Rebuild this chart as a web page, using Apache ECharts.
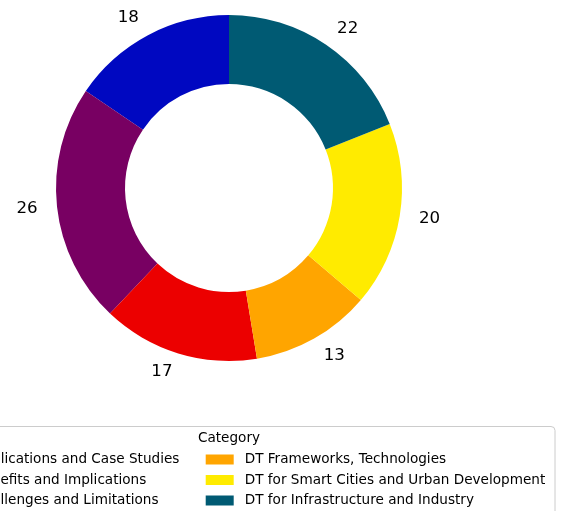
<!DOCTYPE html>
<html>
<head>
<meta charset="utf-8">
<script src="https://cdn.jsdelivr.net/npm/echarts@6/dist/echarts.min.js"></script>
<style>
html,body{margin:0;padding:0;background:#fff;}
#c{width:565px;height:511px;}
</style>
</head>
<body>
<div id="c"></div>
<script>
const categories = [
  "DT Applications and Case Studies",
  "DT Benefits and Implications",
  "DT Challenges and Limitations",
  "DT Frameworks, Technologies",
  "DT for Smart Cities and Urban Development",
  "DT for Infrastructure and Industry"
];
const values = [18, 26, 17, 13, 20, 22];
const colors = ["#0008C1", "#780062", "#EC0000", "#FFA500", "#FFEB00", "#005A73"];
const legendTitle = "Category";

const FONT = "DejaVu Sans";
const chart = echarts.init(document.getElementById('c'), null, {renderer: 'canvas'});

const pieData = categories.map((name, i) => ({
  name: name, value: values[i], itemStyle: {color: colors[i]}
}));

const legendCommon = {
  orient: 'vertical',
  top: 452.5,
  padding: 0,
  itemWidth: 28,
  itemHeight: 10,
  itemGap: 6.5,
  icon: 'rect',
  selectedMode: false,
  textStyle: {fontFamily: FONT, fontSize: 13.6, color: '#000', lineHeight: 14, padding: [0, 0, 0, 6]}
};

chart.setOption({
  animation: false,
  backgroundColor: '#fff',
  graphic: [
    {
      type: 'rect', z: 0, silent: true,
      shape: {x: -97, y: 426.5, width: 652, height: 100, r: 4},
      style: {fill: 'rgba(255,255,255,0.8)', stroke: '#cccccc', lineWidth: 1}
    },
    {
      type: 'text', z: 5, silent: true,
      x: 229, y: 438.5,
      style: {text: legendTitle, fontFamily: FONT, fontSize: 13.6, fill: '#000', textAlign: 'center', textVerticalAlign: 'middle'}
    }
  ],
  legend: [
    Object.assign({}, legendCommon, {left: -88, data: categories.slice(0, 3)}),
    Object.assign({}, legendCommon, {left: 205.7, data: categories.slice(3)})
  ],
  series: [{
    type: 'pie',
    center: [229, 188],
    radius: [104, 173],
    startAngle: 90,
    clockwise: false,
    avoidLabelOverlap: false,
    silent: true,
    itemStyle: {borderWidth: 0},
    label: {
      show: true,
      position: 'outside',
      formatter: '{c}',
      fontFamily: FONT,
      fontSize: 16.67,
      color: '#000',
      distanceToLabelLine: 0
    },
    labelLine: {show: false, length: 19.5, length2: 0},
    emphasis: {disabled: true},
    data: pieData
  }]
});
</script>
</body>
</html>
